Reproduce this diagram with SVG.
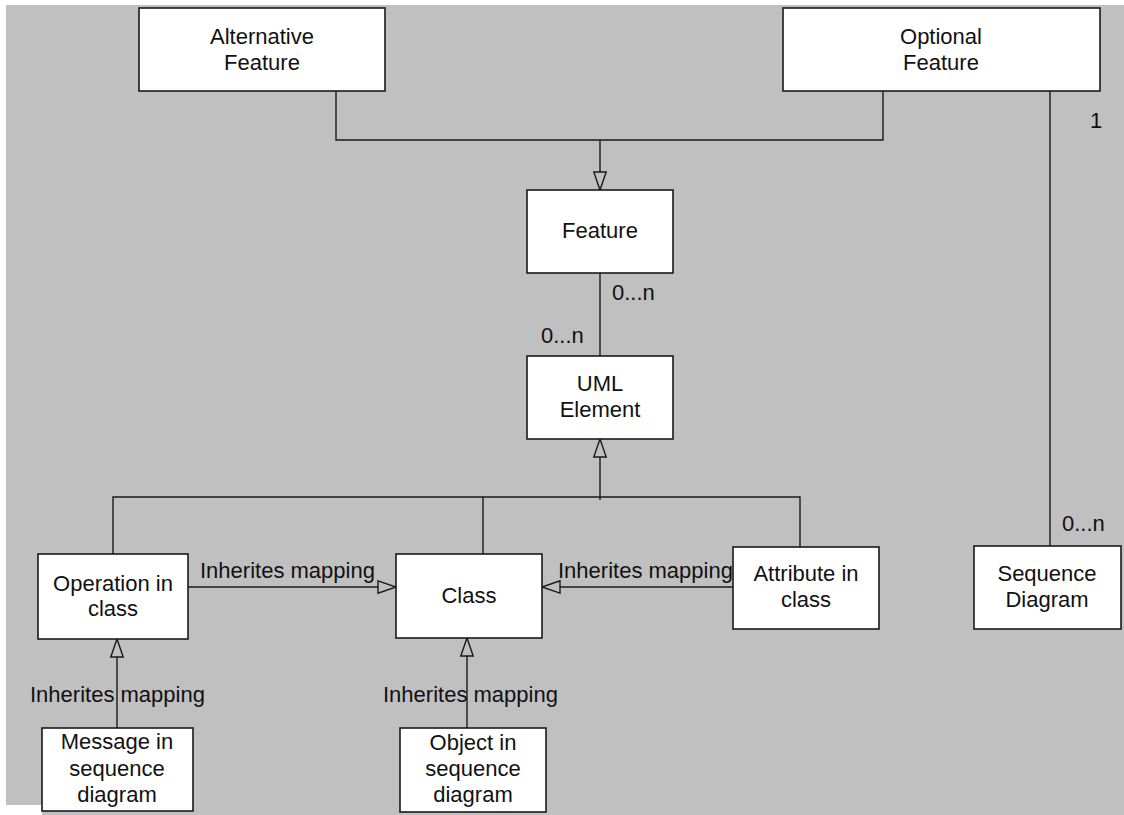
<svg xmlns="http://www.w3.org/2000/svg" width="1124" height="815" viewBox="0 0 1124 815">
  <style>
    .box { fill: #ffffff; stroke: #1a1a1a; stroke-width: 1.6; }
    .ln { fill: none; stroke: #1a1a1a; stroke-width: 1.4; }
    text { font-family: "Liberation Sans", Arial, Helvetica, sans-serif; font-size: 22px; fill: #111111; }
    .c { text-anchor: middle; }
  </style>
  <defs>
    <!-- hollow generalization triangle, tip on the line end -->
    <marker id="gen" markerUnits="userSpaceOnUse" markerWidth="22" markerHeight="16" refX="18.5" refY="7" orient="auto" overflow="visible">
      <path d="M0.5,0.8 L18.5,7 L0.5,13.2 Z" fill="#c0c0c0" stroke="#1a1a1a" stroke-width="1.4"/>
    </marker>
  </defs>

  <!-- canvas -->
  <rect x="0" y="0" width="1124" height="815" fill="#ffffff"/>
  <rect x="6" y="5" width="1118" height="810" fill="#c0c0c0"/>
  <rect x="0" y="805" width="42" height="10" fill="#ffffff"/>

  <g id="connectors">
    <!-- Alternative / Optional Feature generalize Feature -->
    <path class="ln" d="M336,91 V140 H883 V91"/>
    <line class="ln" x1="600" y1="140" x2="600" y2="190" marker-end="url(#gen)"/>
    <!-- Feature to UML Element association -->
    <line class="ln" x1="600" y1="273" x2="600" y2="356"/>
    <!-- Optional Feature to Sequence Diagram association -->
    <line class="ln" x1="1050" y1="91" x2="1050" y2="546"/>
    <!-- subclasses of UML Element -->
    <path class="ln" d="M113,554 V497 H800 V547"/>
    <line class="ln" x1="483" y1="554" x2="483" y2="497"/>
    <line class="ln" x1="600" y1="500" x2="600" y2="439" marker-end="url(#gen)"/>
    <!-- inherited mappings -->
    <line class="ln" x1="188" y1="587" x2="396" y2="587" marker-end="url(#gen)"/>
    <line class="ln" x1="733" y1="587" x2="542" y2="587" marker-end="url(#gen)"/>
    <line class="ln" x1="117" y1="728" x2="117" y2="639" marker-end="url(#gen)"/>
    <line class="ln" x1="467" y1="728" x2="467" y2="638" marker-end="url(#gen)"/>

    <!-- multiplicities and labels -->
    <text x="1090" y="128">1</text>
    <text x="612" y="300">0...n</text>
    <text x="541" y="343">0...n</text>
    <text x="1062" y="531">0...n</text>
    <text x="200" y="578">Inherites mapping</text>
    <text x="558" y="578">Inherites mapping</text>
    <text x="30" y="702">Inherites mapping</text>
    <text x="383" y="702">Inherites mapping</text>
  </g>

  <g id="alternative-feature">
    <rect class="box" x="139" y="8" width="246" height="83"/>
    <text class="c" x="262" y="44">Alternative</text>
    <text class="c" x="262" y="70">Feature</text>
  </g>

  <g id="optional-feature">
    <rect class="box" x="783" y="8" width="317" height="83"/>
    <text class="c" x="941" y="44">Optional</text>
    <text class="c" x="941" y="70">Feature</text>
  </g>

  <g id="feature">
    <rect class="box" x="527" y="190" width="146" height="83"/>
    <text class="c" x="600" y="238">Feature</text>
  </g>

  <g id="uml-element">
    <rect class="box" x="527" y="356" width="146" height="83"/>
    <text class="c" x="600" y="391">UML</text>
    <text class="c" x="600" y="417">Element</text>
  </g>

  <g id="operation-in-class">
    <rect class="box" x="38" y="554" width="150" height="85"/>
    <text class="c" x="113" y="591">Operation in</text>
    <text class="c" x="113" y="616">class</text>
  </g>

  <g id="class">
    <rect class="box" x="396" y="554" width="146" height="84"/>
    <text class="c" x="469" y="603">Class</text>
  </g>

  <g id="attribute-in-class">
    <rect class="box" x="733" y="547" width="146" height="82"/>
    <text class="c" x="806" y="581">Attribute in</text>
    <text class="c" x="806" y="607">class</text>
  </g>

  <g id="sequence-diagram">
    <rect class="box" x="974" y="546" width="147" height="83"/>
    <text class="c" x="1047" y="581">Sequence</text>
    <text class="c" x="1047" y="607">Diagram</text>
  </g>

  <g id="message-in-sequence-diagram">
    <rect class="box" x="42" y="728" width="151" height="83"/>
    <text class="c" x="117" y="749">Message in</text>
    <text class="c" x="117" y="776">sequence</text>
    <text class="c" x="117" y="802">diagram</text>
  </g>

  <g id="object-in-sequence-diagram">
    <rect class="box" x="400" y="728" width="146" height="84"/>
    <text class="c" x="473" y="750">Object in</text>
    <text class="c" x="473" y="776">sequence</text>
    <text class="c" x="473" y="802">diagram</text>
  </g>
</svg>
